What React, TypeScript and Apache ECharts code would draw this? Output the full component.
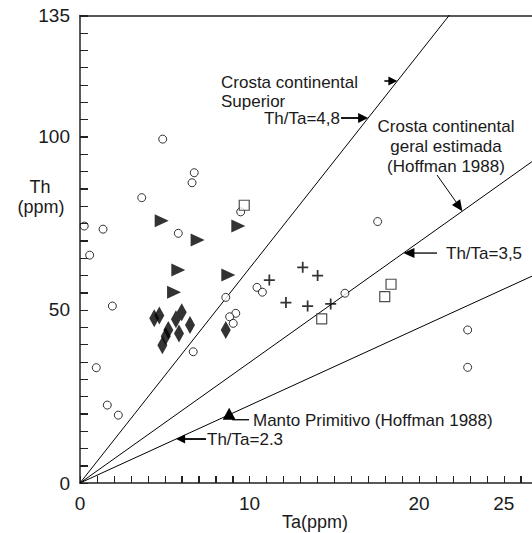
import React, { useEffect, useRef } from "react";
import * as echarts from "echarts";

// Ta (ppm), Th (ppm)
const openCircles: number[][] = [
  [4.88, 99.3], [6.74, 89.6], [6.61, 86.7], [3.64, 82.4], [0.25, 74.2], [1.36, 73.3],
  [5.8, 72.1], [0.57, 65.8], [1.91, 51.1], [0.96, 33.3], [1.61, 22.5], [2.26, 19.6],
  [6.68, 37.9], [9.48, 78.3], [8.6, 53.6], [9.19, 49.0], [8.83, 48.0], [9.04, 46.1],
  [10.44, 56.5], [10.76, 55.1], [15.63, 54.8], [17.56, 75.5], [22.87, 44.2], [22.87, 33.4],
];
const openSquares: number[][] = [
  [9.69, 80.2], [14.26, 47.4], [18.35, 57.4], [17.98, 53.8],
];
const rightTriangles: number[][] = [
  [4.82, 75.7], [6.94, 70.2], [5.8, 61.5], [5.55, 55.1], [9.34, 74.2], [8.75, 60.1],
];
const diamonds: number[][] = [
  [4.38, 47.6], [4.68, 48.4], [6.0, 49.3], [5.66, 47.3], [6.49, 45.6], [5.84, 43.2],
  [5.21, 44.2], [5.06, 42.4], [4.86, 39.8], [8.6, 44.2],
];
const crosses: number[][] = [
  [11.17, 58.6], [13.14, 62.3], [14.02, 59.9], [12.15, 52.1], [13.43, 51.1], [14.79, 51.7],
];

// reference lines through the origin, as drawn (Th = slope * Ta)
const lineSlopes = [6.2, 3.48, 2.24];

const X_MAX = 27;
const Y_MAX = 135;
const X_TICK_STEP = 1;
const Y_TICK_STEP = 5;
const xTickLabels = [0, 10, 20, 25];
const yTickLabels = [0, 50, 100, 135];

const FONT = "'Liberation Sans', Arial, sans-serif";
const INK = "#1a1a1a";

const GRID_LEFT = 80;
const GRID_TOP = 15.5;
const GRID_W = X_MAX * 16.95;
const GRID_H = 467.5;

export default function App() {
  const ref = useRef<HTMLDivElement>(null);

  useEffect(() => {
    const chart = echarts.init(ref.current!, null, { renderer: "svg" });

    // same linear mapping as the grid below (used only for annotations / tick marks)
    const px = (x: number) => GRID_LEFT + (x / X_MAX) * GRID_W;
    const py = (y: number) => GRID_TOP + GRID_H - (y / Y_MAX) * GRID_H;
    const onLine = (i: number, th: number) => [px(th / lineSlopes[i]), py(th)];

    const head = (tip: number[], dir: number[], len = 10, half = 4.5) => {
      const n = Math.hypot(dir[0], dir[1]);
      const d = [dir[0] / n, dir[1] / n];
      const p = [-d[1], d[0]];
      const b = [tip[0] - d[0] * len, tip[1] - d[1] * len];
      return {
        type: "polygon",
        shape: { points: [tip, [b[0] + p[0] * half, b[1] + p[1] * half], [b[0] - p[0] * half, b[1] - p[1] * half]] },
        style: { fill: "#000" },
        z: 10,
      };
    };
    const seg = (a: number[], b: number[], w = 1.3, color = "#000") => ({
      type: "line",
      shape: { x1: a[0], y1: a[1], x2: b[0], y2: b[1] },
      style: { stroke: color, lineWidth: w },
      z: 10,
    });
    const txt = (text: string, x: number, y: number, align = "left", size = 17) => ({
      type: "text",
      x,
      y,
      z: 10,
      style: { text, fill: INK, font: `${size}px ${FONT}`, align, verticalAlign: "middle" },
    });

    const g: any[] = [];

    // inward tick marks along both axes (every axis step)
    const yBase = py(0);
    for (let k = X_TICK_STEP; k <= X_MAX; k += X_TICK_STEP) {
      const x = Math.round(px(k)) + 0.5;
      g.push(seg([x, yBase], [x, yBase - 7], 1, "#222"));
    }
    const xBase = px(0);
    for (let k = Y_TICK_STEP; k <= Y_MAX; k += Y_TICK_STEP) {
      const y = Math.round(py(k)) + 0.5;
      g.push(seg([xBase, y], [xBase + 8, y], 1, "#222"));
    }

    g.push(txt("Th", 40, 187, "center", 18));
    g.push(txt("(ppm)", 41, 207, "center", 18));
    g.push(txt("Ta(ppm)", 315, 522, "center", 18));

    g.push(txt("Crosta continental", 221, 82));
    g.push(txt("Superior", 221, 101));
    const tA = onLine(0, (483 - 81) / 3.463);
    g.push(seg([tA[0] - 13, tA[1]], [tA[0] - 6, tA[1]], 1.6));
    g.push(head(tA, [1, 0], 9, 4.5));

    const tB = onLine(0, (483 - 118) / 3.463);
    g.push(txt("Th/Ta=4,8", 340, 118, "right"));
    g.push(seg([341, tB[1]], [tB[0] - 8, tB[1]], 1.8));
    g.push(head(tB, [1, 0], 10, 5));

    g.push(txt("Crosta continental", 446, 126, "center"));
    g.push(txt("geral estimada", 446, 146, "center"));
    g.push(txt("(Hoffman 1988)", 446, 166, "center"));
    const tC = onLine(1, 78.5);
    g.push(seg([437, 175], [tC[0] - 4, tC[1] - 6], 1));
    g.push(head(tC, [tC[0] - 437, tC[1] - 175], 11, 5));

    const tD = onLine(1, 66.4);
    g.push(txt("Th/Ta=3,5", 446, tD[1]));
    g.push(seg([437, tD[1]], [tD[0] + 8, tD[1]], 1.3));
    g.push(head(tD, [-1, 0], 11, 5));

    const tE = onLine(2, 2.24 * 8.8);
    g.push({
      type: "polygon",
      shape: { points: [[tE[0], tE[1] - 7], [tE[0] - 6.5, tE[1] + 5], [tE[0] + 6.5, tE[1] + 5]] },
      style: { fill: "#000" },
      z: 10,
    });
    g.push(seg([tE[0] + 3, tE[1] + 5], [249, tE[1] + 5], 1.3));
    g.push(txt("Manto Primitivo (Hoffman 1988)", 253, 420));

    const tF = onLine(2, 12.7);
    g.push(txt("Th/Ta=2.3", 207, tF[1]));
    g.push(seg([206, tF[1]], [tF[0] + 7, tF[1]], 1.8));
    g.push(head(tF, [-1, 0], 9, 4.5));

    const lineSeries = lineSlopes.map((s) => ({
      type: "line",
      data: [[0, 0], [X_MAX, s * X_MAX]],
      symbol: "none",
      clip: true,
      z: 1,
      lineStyle: { color: "#000", width: 1 },
    }));

    const option: any = {
      animation: false,
      grid: {
        left: GRID_LEFT,
        top: GRID_TOP,
        width: GRID_W,
        height: GRID_H,
        outerBoundsMode: "none",
        containLabel: false,
      },
      xAxis: [
        {
          type: "value",
          min: 0,
          max: X_MAX,
          interval: X_TICK_STEP,
          axisLine: { show: true, lineStyle: { color: "#222", width: 1.5 } },
          axisTick: { show: true, inside: true, length: 7, lineStyle: { color: "#222", width: 1 } },
          axisLabel: {
            margin: 11,
            fontSize: 19,
            fontFamily: FONT,
            color: INK,
            formatter: (v: number) => (xTickLabels.includes(v) ? String(v) : ""),
          },
          splitLine: { show: false },
        },
        {
          type: "value",
          position: "top",
          min: 0,
          max: X_MAX,
          axisLine: { show: true, lineStyle: { color: "#222", width: 1.5 } },
          axisTick: { show: false },
          axisLabel: { show: false },
          splitLine: { show: false },
        },
      ],
      yAxis: {
        type: "value",
        min: 0,
        max: Y_MAX,
        interval: Y_TICK_STEP,
        axisLine: { show: true, lineStyle: { color: "#222", width: 1.5 } },
        axisTick: { show: true, inside: true, length: 8, lineStyle: { color: "#222", width: 1 } },
        axisLabel: {
          margin: 10,
          fontSize: 19,
          fontFamily: FONT,
          color: INK,
          formatter: (v: number) => (yTickLabels.includes(v) ? String(v) : ""),
        },
        splitLine: { show: false },
      },
      graphic: g,
      series: [
        ...lineSeries,
        {
          type: "scatter",
          data: openCircles,
          symbol: "circle",
          symbolSize: 8,
          z: 3,
          itemStyle: { color: "#fff", borderColor: "#000", borderWidth: 1 },
        },
        {
          type: "scatter",
          data: openSquares,
          symbol: "rect",
          symbolSize: 10,
          z: 3,
          itemStyle: { color: "#fff", borderColor: "#222", borderWidth: 1.2 },
        },
        {
          type: "scatter",
          data: rightTriangles,
          symbol: "triangle",
          symbolRotate: -90,
          symbolSize: [13, 14],
          z: 3,
          itemStyle: { color: "#000" },
        },
        {
          type: "scatter",
          data: diamonds,
          symbol: "diamond",
          symbolSize: [10, 18],
          z: 3,
          itemStyle: { color: "#000" },
        },
        {
          type: "scatter",
          data: crosses,
          symbol: "path://M4.2,0H5.8V4.2H10V5.8H5.8V10H4.2V5.8H0V4.2H4.2Z",
          symbolSize: 11,
          z: 3,
          itemStyle: { color: "#000" },
        },
      ],
    };

    chart.setOption(option);
    return () => chart.dispose();
  }, []);

  return <div ref={ref} style={{ position: "absolute", left: 0, top: 0, width: 532, height: 533 }} />;
}
